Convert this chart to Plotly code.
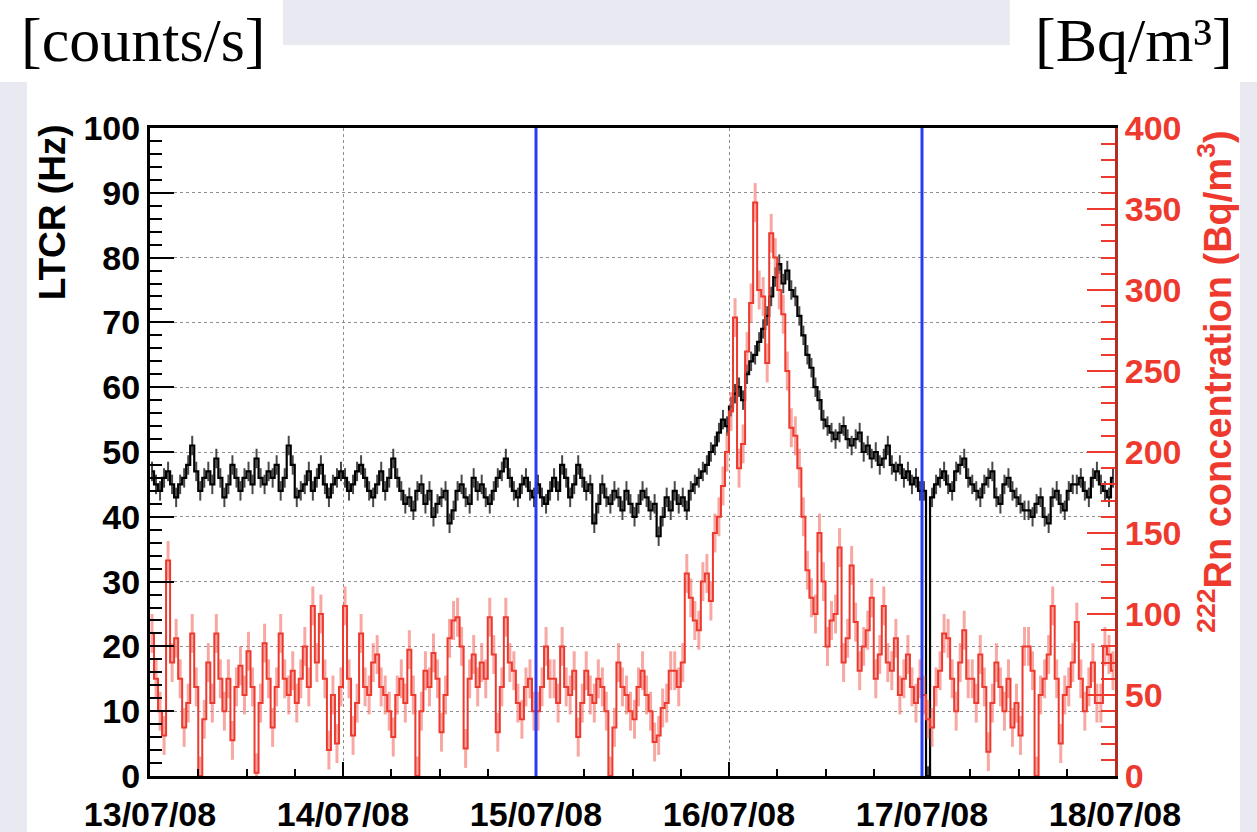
import pandas as pd
import plotly.graph_objects as go

# Half-hour bins starting 13/07/08 00:00
start = "2008-07-13 00:15"

# Low-threshold count rate (Hz), one value per half hour
ltcr_day1 = [47, 45, 44, 46, 47, 45, 43, 45, 46, 48, 51, 47, 44, 46, 47, 45, 49, 46, 43, 45, 48, 46, 44, 46,
             47, 45, 49, 46, 45, 47, 46, 48, 44, 46, 51, 48, 43, 44, 45, 47, 44, 46, 48, 45, 43, 45, 46, 47]
ltcr_day2 = [46, 44, 45, 47, 48, 46, 44, 43, 45, 47, 44, 46, 49, 46, 44, 42, 43, 41, 44, 45, 42, 44, 40, 42,
             43, 44, 39, 41, 44, 45, 43, 42, 46, 44, 45, 43, 42, 44, 46, 47, 49, 46, 44, 43, 45, 46, 44, 43]
ltcr_day3 = [45, 43, 42, 44, 46, 44, 48, 46, 43, 45, 48, 46, 44, 45, 39, 42, 45, 43, 42, 44, 43, 41, 44, 42,
             40, 42, 44, 43, 41, 42, 37, 40, 43, 41, 44, 42, 43, 41, 44, 45, 46, 47, 48, 50, 51, 53, 55, 54]
ltcr_day4 = [57, 59, 60, 58, 62, 64, 65, 67, 69, 71, 74, 77, 79, 76, 78, 75, 74, 71, 68, 65, 63, 60, 58, 55,
             54, 53, 52, 53, 54, 52, 51, 52, 53, 50, 51, 49, 50, 48, 49, 51, 48, 47, 48, 46, 47, 45, 46, 44]
ltcr_day5 = [44, 0, 43, 45, 46, 47, 45, 44, 47, 48, 49, 46, 45, 44, 43, 45, 46, 47, 43, 42, 45, 46, 44, 43,
             42, 41, 41, 40, 42, 43, 40, 39, 43, 44, 42, 41, 44, 45, 45, 46, 44, 43, 46, 47, 45, 44, 43, 46]

# 222Rn concentration (Bq/m3), one value per half hour
rn_day1 = [88, 60, 40, 25, 133, 70, 85, 60, 30, 45, 88, 55, 0, 35, 70, 45, 88, 60, 40, 60, 22, 55, 68, 50,
           77, 55, 2, 45, 82, 60, 30, 55, 88, 60, 50, 65, 45, 60, 80, 55, 105, 70, 100, 60, 16, 50, 20, 55]
rn_day2 = [105, 60, 25, 45, 88, 55, 50, 70, 75, 55, 50, 40, 24, 50, 60, 45, 78, 50, 0, 40, 65, 55, 76, 60,
           27, 50, 85, 96, 98, 80, 17, 60, 75, 55, 70, 60, 98, 75, 27, 55, 98, 70, 65, 45, 35, 55, 60, 40]
rn_day3 = [40, 55, 80, 60, 60, 45, 80, 55, 50, 65, 24, 45, 65, 50, 45, 60, 55, 40, 0, 30, 70, 55, 50, 40,
           35, 55, 65, 50, 40, 21, 25, 42, 45, 65, 65, 55, 70, 125, 110, 96, 90, 120, 125, 108, 150, 160, 179, 200]
rn_day4 = [225, 283, 190, 205, 262, 292, 354, 300, 296, 255, 335, 320, 300, 285, 250, 215, 210, 190, 160, 127,
           110, 100, 150, 120, 80, 96, 100, 141, 70, 85, 130, 95, 65, 80, 90, 110, 60, 75, 105, 70, 65, 85,
           50, 60, 75, 55, 45, 60]
rn_day5 = [50, 35, 30, 55, 65, 88, 85, 60, 40, 70, 90, 60, 60, 45, 75, 55, 15, 45, 70, 55, 40, 60, 30, 45,
           25, 80, 80, 65, 0, 50, 60, 75, 105, 60, 20, 50, 55, 70, 95, 60, 40, 55, 70, 45, 45, 80, 75, 65]

ltcr_err = 1.5
rn_err = 12

# Dates of the vertical markers
markers = ["2008-07-15 00:00", "2008-07-17 00:00"]
day_ticks = ["2008-07-13", "2008-07-14", "2008-07-15", "2008-07-16", "2008-07-17", "2008-07-18"]

ltcr = ltcr_day1 + ltcr_day2 + ltcr_day3 + ltcr_day4 + ltcr_day5
rn = rn_day1 + rn_day2 + rn_day3 + rn_day4 + rn_day5
t_ltcr = pd.date_range(start, periods=len(ltcr), freq="30min")
t_rn = pd.date_range(start, periods=len(rn), freq="30min")

RED = "#ee3a2e"
BLUE = "#2a3cf2"
LAV = "#e9e9f2"
FONT = "Liberation Sans"

fig = go.Figure()

fig.add_trace(go.Scatter(
    x=t_rn, y=rn, yaxis="y2", mode="lines", line=dict(color=RED, width=2, shape="hvh"),
    error_y=dict(type="constant", value=rn_err, color="rgba(242,110,102,0.6)", thickness=3, width=0),
    showlegend=False,
))
fig.add_trace(go.Scatter(
    x=t_ltcr, y=ltcr, mode="lines", line=dict(color="black", width=2.2, shape="hvh"),
    error_y=dict(type="constant", value=ltcr_err, color="rgba(40,40,40,0.85)", thickness=2, width=0),
    showlegend=False,
))

for m in markers:
    fig.add_shape(type="line", x0=m, x1=m, y0=0, y1=1, xref="x", yref="paper",
                  line=dict(color=BLUE, width=3), layer="above")

# Page decoration: lavender strips around the frame
deco = [
    (-0.1554, -0.1275, -0.09, 1.071),
    (1.1295, 1.15, -0.09, 1.071),
    (0.1378, 0.891, 1.128, 1.2),
]
for x0, x1, y0, y1 in deco:
    fig.add_shape(type="rect", xref="paper", yref="paper", x0=x0, x1=x1, y0=y0, y1=y1,
                  fillcolor=LAV, line=dict(width=0), layer="below")

fig.add_annotation(text="[counts/s]", xref="paper", yref="paper", x=-0.136, y=1.136,
                   xanchor="left", yanchor="middle", showarrow=False,
                   font=dict(family="Liberation Serif", size=62, color="black"))
fig.add_annotation(text="[Bq/m³]", xref="paper", yref="paper", x=1.124, y=1.136,
                   xanchor="right", yanchor="middle", showarrow=False,
                   font=dict(family="Liberation Serif", size=62, color="black"))
fig.add_annotation(text="LTCR (Hz)", xref="paper", yref="paper", x=-0.101, y=1.008,
                   xanchor="center", yanchor="top", textangle=-90, showarrow=False,
                   font=dict(family=FONT, size=37, color="black", weight="bold"))
fig.add_annotation(text="<sup>222</sup>Rn concentration (Bq/m<sup>3</sup>)", xref="paper", yref="paper",
                   x=1.103, y=1.0, xanchor="center", yanchor="top", textangle=-90, showarrow=False,
                   font=dict(family=FONT, size=38, color=RED, weight="bold"))

fig.update_layout(
    width=1257, height=832,
    margin=dict(l=150, r=142, t=128, b=56),
    paper_bgcolor="white", plot_bgcolor="white",
    xaxis=dict(
        range=["2008-07-13", "2008-07-18"], tickvals=day_ticks, tickformat="%d/%m/%y",
        ticks="inside", ticklen=14, tickwidth=2, tickcolor="black", ticklabelstandoff=6,
        minor=dict(dtick=6 * 3600 * 1000, ticks="inside", ticklen=7, tickcolor="black", showgrid=False),
        showgrid=True, gridcolor="#8f8f8f", griddash="dot", gridwidth=1,
        showline=True, linecolor="black", linewidth=3, mirror=True,
        tickfont=dict(family=FONT, size=34, color="black", weight="bold"),
        zeroline=False, automargin=False,
    ),
    yaxis=dict(
        range=[0, 100], dtick=10, ticks="inside", ticklen=24, tickwidth=2, tickcolor="black",
        minor=dict(dtick=2, ticks="inside", ticklen=12, tickcolor="black", showgrid=False),
        showgrid=True, gridcolor="#8f8f8f", griddash="dot", gridwidth=1,
        showline=True, linecolor="black", linewidth=3,
        tickfont=dict(family=FONT, size=34, color="black", weight="bold"),
        zeroline=False, automargin=False,
    ),
    yaxis2=dict(
        range=[0, 400], dtick=50, overlaying="y", side="right",
        ticks="inside", ticklen=28, tickwidth=2, tickcolor=RED,
        minor=dict(dtick=10, ticks="inside", ticklen=14, tickcolor=RED, showgrid=False),
        showgrid=False, showline=True, linecolor="#b03028", linewidth=3,
        tickfont=dict(family=FONT, size=34, color=RED, weight="bold"),
        zeroline=False, automargin=False,
    ),
)

fig.write_html("out.html")
